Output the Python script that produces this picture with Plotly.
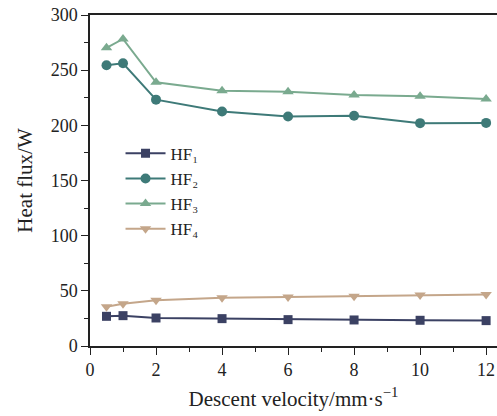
import plotly.graph_objects as go

velocity = [0.5, 1, 2, 4, 6, 8, 10, 12]
hf1 = [26.9, 27.5, 25.4, 24.8, 23.9, 23.6, 23.3, 23.0]
hf2 = [254.5, 256.2, 223.3, 212.6, 208.0, 208.7, 202.0, 202.2]
hf3 = [270.3, 278.3, 239.0, 231.3, 230.5, 227.5, 226.3, 223.8]
hf4 = [35.6, 38.3, 41.4, 43.8, 44.5, 45.1, 46.2, 46.6]

names = ["HF₁", "HF₂", "HF₃", "HF₄"]
colors = ["#3b4163", "#3e7a78", "#7aaa8f", "#c4a68a"]
symbols = ["square", "circle", "triangle-up", "triangle-down"]
series = [hf1, hf2, hf3, hf4]

fig = go.Figure()
for n, c, s, ys in zip(names, colors, symbols, series):
    fig.add_trace(go.Scatter(
        x=velocity, y=ys, name=n, mode="lines+markers",
        line=dict(color=c, width=2),
        marker=dict(symbol=s, size=10 if s != "square" else 9, color=c),
    ))

font = "Liberation Serif, Times New Roman, serif"
fig.update_layout(
    width=497, height=416,
    margin=dict(l=90, r=0, t=15, b=70),
    paper_bgcolor="white", plot_bgcolor="white",
    font=dict(family=font, size=18, color="#222"),
    showlegend=True,
    legend=dict(x=0.075, y=0.635, xanchor="left", yanchor="top",
                bgcolor="rgba(0,0,0,0)", font=dict(size=17, family=font, color="#222"),
                tracegroupgap=0, itemwidth=40),
    xaxis=dict(
        range=[0, 12.33], tickvals=[0, 2, 4, 6, 8, 10, 12],
        showline=True, linecolor="#222", linewidth=1.5, mirror=True,
        ticks="outside", ticklen=7, tickcolor="#222", tickwidth=1.2,
        minor=dict(dtick=1, tick0=0, ticks="outside", ticklen=4, tickcolor="#222"),
        showgrid=False, zeroline=False,
        title=dict(text="Descent velocity/mm·s<sup>−1</sup>", font=dict(size=21, family=font), standoff=12),
        tickfont=dict(size=18, family=font),
    ),
    yaxis=dict(
        range=[0, 300], tickvals=[0, 50, 100, 150, 200, 250, 300],
        showline=True, linecolor="#222", linewidth=1.5,
        ticks="outside", ticklen=7, tickcolor="#222", tickwidth=1.2,
        minor=dict(dtick=25, tick0=0, ticks="outside", ticklen=4, tickcolor="#222"),
        showgrid=False, zeroline=False,
        title=dict(text="Heat flux/W", font=dict(size=21, family=font), standoff=12),
        tickfont=dict(size=18, family=font),
    ),
)

fig.write_html("out.html")
